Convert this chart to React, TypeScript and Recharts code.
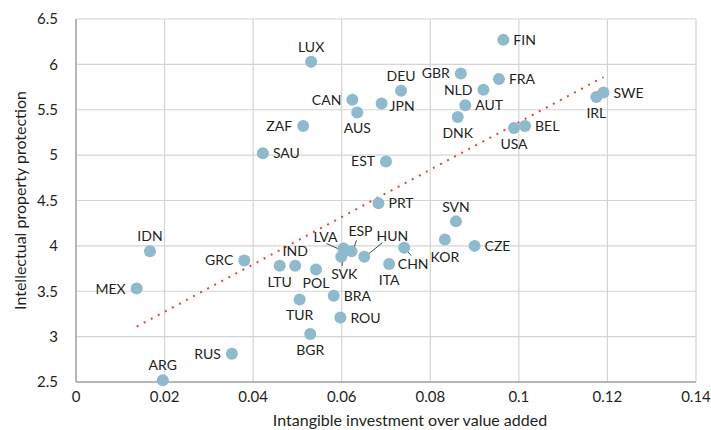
import { CartesianGrid, Scatter, ScatterChart, XAxis, YAxis } from "recharts";

const countries = [
  "LUX", "FIN", "GBR", "FRA", "DEU", "NLD", "JPN", "AUT", "DNK", "USA", "BEL", "IRL", "SWE",
  "CAN", "AUS", "ZAF", "SAU", "EST", "PRT", "SVN", "KOR", "CZE", "CHN", "ITA", "HUN", "ESP",
  "LVA", "SVK", "IND", "LTU", "POL", "GRC", "IDN", "MEX", "TUR", "BRA", "ROU", "BGR", "RUS", "ARG",
];
const intangible = [
  0.0531, 0.0965, 0.0869, 0.0955, 0.0734, 0.092, 0.069, 0.0879, 0.0862, 0.0989, 0.1014, 0.1175, 0.1191,
  0.0624, 0.0635, 0.0513, 0.0422, 0.07, 0.0683, 0.0858, 0.0833, 0.09, 0.0741, 0.0707, 0.0651, 0.0622,
  0.0604, 0.0599, 0.0495, 0.046, 0.0542, 0.038, 0.0167, 0.0137, 0.0505, 0.0582, 0.0597, 0.0529, 0.0352, 0.0196,
];
const ipProtection = [
  6.03, 6.27, 5.9, 5.84, 5.71, 5.72, 5.57, 5.55, 5.42, 5.3, 5.32, 5.64, 5.69,
  5.61, 5.47, 5.32, 5.02, 4.93, 4.47, 4.27, 4.07, 4.0, 3.98, 3.8, 3.88, 3.94,
  3.97, 3.88, 3.78, 3.78, 3.74, 3.84, 3.94, 3.53, 3.41, 3.45, 3.21, 3.03, 2.81, 2.52,
];

// fitted trend, end points
const trendX = [0.0137, 0.1191];
const trendY = [3.11, 5.86];

const xTicks = [0, 0.02, 0.04, 0.06, 0.08, 0.1, 0.12, 0.14];
const yTicks = [2.5, 3, 3.5, 4, 4.5, 5, 5.5, 6, 6.5];

const points = countries.map((c, i) => ({ code: c, x: intangible[i], y: ipProtection[i] }));
const trend = trendX.map((x, i) => ({ x, y: trendY[i] }));

// label placement: [dx, dy, anchor, leader?]
type Place = { dx: number; dy: number; a: "start" | "middle" | "end"; l?: number[] };
const R: Place = { dx: 10, dy: 0, a: "start" };
const L: Place = { dx: -11, dy: 0, a: "end" };
const A: Place = { dx: 0, dy: -15, a: "middle" };
const B: Place = { dx: 0, dy: 16, a: "middle" };
const PLACE: Record<string, Place> = {
  LUX: A, FIN: R, GBR: L, FRA: R, DEU: A, NLD: L, JPN: { dx: 8, dy: 3, a: "start" }, AUT: R,
  DNK: B, USA: B, BEL: R, IRL: B, SWE: R, CAN: L, AUS: B, ZAF: L, SAU: R, EST: L, PRT: R,
  SVN: { dx: 0, dy: -14, a: "middle" }, KOR: { dx: 0, dy: 17, a: "middle" }, CZE: R,
  CHN: { dx: 9, dy: 16, a: "middle", l: [1, 1, 7, 8] }, ITA: B,
  HUN: { dx: 28, dy: -21, a: "middle", l: [2, -1, 18, -14] },
  ESP: { dx: 9, dy: -20, a: "middle", l: [2, -2, 5, -11] },
  LVA: { dx: -18, dy: -12, a: "middle", l: [-17, -5, -1, 2] },
  SVK: { dx: 3, dy: 17, a: "middle", l: [1, 1, 1, 9] },
  IND: A, LTU: B, POL: { dx: 0, dy: 14, a: "middle" }, GRC: L, IDN: A, MEX: L,
  TUR: B, BRA: R, ROU: R, BGR: B, RUS: L, ARG: A,
};

const font = "Lato, 'Open Sans', sans-serif";
const ink = "#231f20";
const dotFill = "#8fbacd";
const tickStyle = { fontSize: 15, fontFamily: font, fill: ink };

function CountryDot(props: any) {
  const { cx, cy, payload } = props;
  if (cx == null || cy == null) return null;
  const p = PLACE[payload.code] ?? R;
  return (
    <g>
      {p.l && (
        <line x1={cx + p.l[0]} y1={cy + p.l[1]} x2={cx + p.l[2]} y2={cy + p.l[3]} stroke="#444" strokeWidth={1} />
      )}
      <circle cx={cx} cy={cy} r={6} fill={dotFill} />
      <text x={cx + p.dx} y={cy + p.dy + 5} textAnchor={p.a} fontSize={14} fontFamily={font} fill={ink}>
        {payload.code}
      </text>
    </g>
  );
}

export default function App() {
  return (
    <div style={{ position: "absolute", left: 0, top: 0, background: "#fff" }}>
      <ScatterChart width={711} height={430} margin={{ top: 19, right: 15, left: 0, bottom: 0 }}>
        <CartesianGrid stroke="#d4d4d4" strokeWidth={1.2} />
        <XAxis
          type="number"
          dataKey="x"
          domain={[0, 0.14]}
          ticks={xTicks}
          tick={tickStyle}
          tickLine={false}
          tickSize={0}
          tickMargin={9}
          axisLine={{ stroke: "#a6a6a6", strokeWidth: 1.5 }}
          height={48}
          label={{
            value: "Intangible investment over value added",
            position: "insideBottom",
            offset: 4,
            dx: 24,
            style: { fontSize: 16, fontFamily: font, fill: ink },
          }}
        />
        <YAxis
          type="number"
          dataKey="y"
          domain={[2.5, 6.5]}
          ticks={yTicks}
          tick={tickStyle}
          tickLine={false}
          tickSize={0}
          tickMargin={18}
          axisLine={{ stroke: "#a6a6a6", strokeWidth: 1.5 }}
          width={76}
          label={{
            value: "Intellectual property protection",
            angle: -90,
            position: "insideLeft",
            offset: 20,
            style: { textAnchor: "middle", fontSize: 16, fontFamily: font, fill: ink },
          }}
        />
        <Scatter
          data={trend}
          line={{ stroke: "#e8413c", strokeWidth: 2, strokeDasharray: "2 6" }}
          shape={() => null}
          isAnimationActive={false}
        />
        <Scatter data={points} shape={CountryDot} isAnimationActive={false} />
      </ScatterChart>
    </div>
  );
}
